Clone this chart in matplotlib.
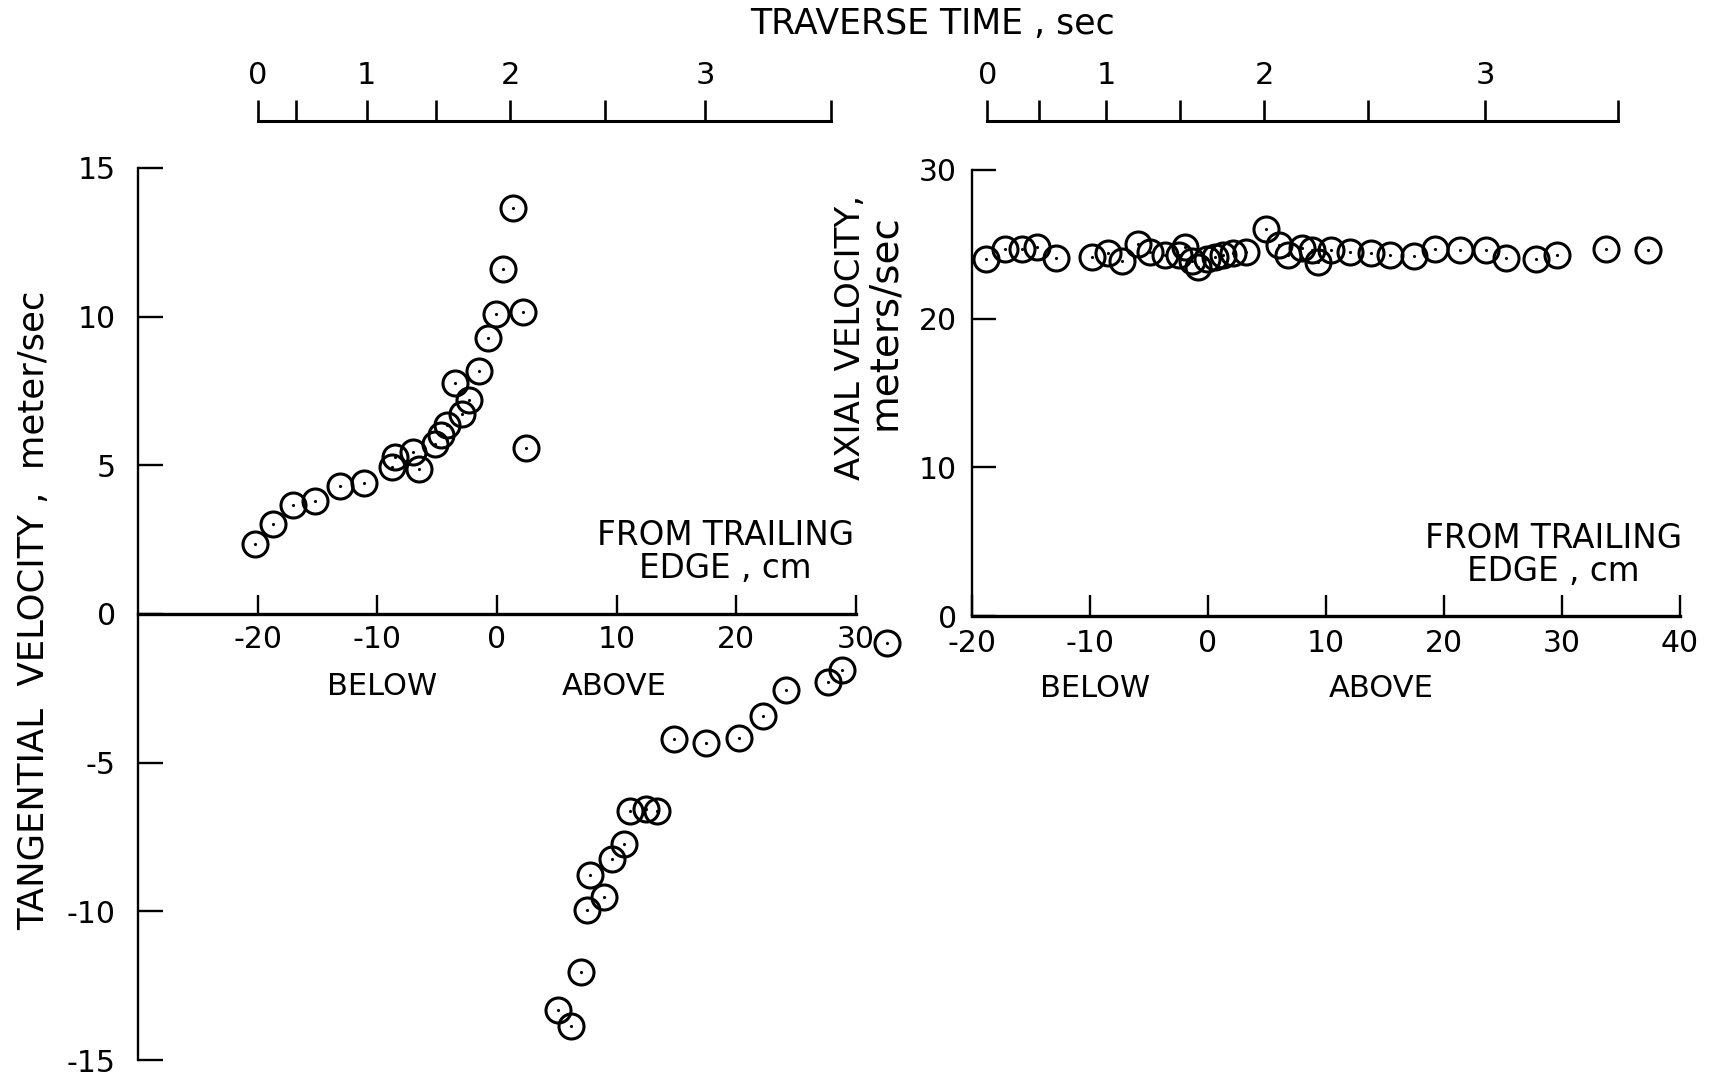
import matplotlib
matplotlib.use('Agg')
import matplotlib.pyplot as plt

# tangential velocity, distance from trailing edge (cm)
tan_x = [-20.25, -18.68, -17.08, -15.2, -13.1, -11.15, -8.75, -8.5, -6.98, -6.55,
         -5.2, -4.68, -4.15, -3.55, -2.9, -2.35, -1.48, -0.76, -0.08, 0.5, 1.32,
         2.17, 2.4,
         32.6, 28.85, 27.7, 24.15, 22.2, 20.25, 17.45, 14.75, 13.35, 12.45, 11.15,
         10.6, 9.6, 7.8, 8.9, 7.55, 6.98, 5.1, 6.15]
tan_v = [2.36, 3.03, 3.67, 3.79, 4.32, 4.4, 4.96, 5.28, 5.44, 4.86,
         5.72, 6.02, 6.35, 7.78, 6.73, 7.19, 8.17, 9.27, 10.09, 11.6, 13.67,
         10.17, 5.57,
         -0.99, -1.87, -2.28, -2.57, -3.42, -4.18, -4.33, -4.22, -6.64, -6.57, -6.62,
         -7.72, -8.24, -8.78, -9.52, -9.95, -12.05, -13.33, -13.85]

# axial velocity
ax_x = [-18.8, -17.2, -15.75, -14.5, -12.9, -9.8, -8.5, -7.33, -5.97, -4.9,
        -3.65, -2.5, -1.95, -1.38, -0.82, -0.11, 0.59, 1.3, 2.1, 3.2,
        4.95, 6.05, 6.75, 7.95, 8.85, 9.35, 10.4, 12.0, 13.85, 15.4,
        17.45, 19.2, 21.35, 23.6, 25.25, 27.8, 29.55, 33.7, 37.3]
ax_v = [24.04, 24.67, 24.7, 24.8, 24.1, 24.17, 24.43, 23.88, 25.02, 24.5,
        24.28, 24.28, 24.84, 23.88, 23.5, 23.99, 24.17, 24.28, 24.43, 24.5,
        26.0, 24.95, 24.28, 24.73, 24.62, 23.83, 24.62, 24.5, 24.4, 24.3,
        24.2, 24.7, 24.6, 24.6, 24.1, 24.0, 24.3, 24.7, 24.6]

# traverse time scale (tick positions in cm)
time_left_pos = [-20, -16.8, -10.9, -5.1, 1.1, 9.0, 17.4, 27.9]
time_right_pos = [-18.7, -14.3, -8.65, -2.4, 4.75, 13.55, 23.5, 34.75]
time_labels = ['0', '', '1', '', '2', '', '3', '']

left_xticks = [-20, -10, 0, 10, 20, 30]
left_yticks = [-15, -10, -5, 0, 5, 10, 15]
right_xticks = [-20, -10, 0, 10, 20, 30, 40]
right_yticks = [0, 10, 20, 30]

plt.rcParams['font.family'] = 'DejaVu Sans'
plt.rcParams['axes.unicode_minus'] = False

W, H = 1721, 1086
fig = plt.figure(figsize=(W / 100, H / 100), dpi=100)


def box(x0, y0, x1, y1):
    # pixel box (top-left origin) -> figure fraction
    return [x0 / W, 1 - y1 / H, (x1 - x0) / W, (y1 - y0) / H]


def circles(ax, x, y):
    ax.plot(x, y, 'o', ms=18, mfc='none', mec='black', mew=2.2, clip_on=False)
    ax.plot(x, y, '.', ms=2.5, color='black', clip_on=False)


# ---- left: tangential velocity
ax1 = fig.add_axes(box(138, 168, 856, 1060))
circles(ax1, tan_x, tan_v)
ax1.set_xlim(-30, 30)
ax1.set_ylim(-15, 15)
ax1.spines['top'].set_visible(False)
ax1.spines['right'].set_visible(False)
ax1.spines['bottom'].set_position(('data', 0))
ax1.spines['bottom'].set_linewidth(2.4)
ax1.spines['left'].set_linewidth(1.7)
ax1.set_xticks(left_xticks, [str(v) for v in left_xticks])
ax1.set_yticks(left_yticks, [str(v) for v in left_yticks])
ax1.tick_params(axis='x', direction='in', length=14, width=1.7, pad=8, labelsize=21.5)
ax1.tick_params(axis='y', direction='in', length=18, width=1.7, pad=16, labelsize=21.5)
ax1.text(-9.6, -2.45, 'BELOW', ha='center', va='center', fontsize=22)
ax1.text(9.8, -2.45, 'ABOVE', ha='center', va='center', fontsize=22)
ax1.text(19.1, 2.1, 'FROM TRAILING\nEDGE , cm', ha='center', va='center',
         fontsize=23.5, linespacing=1.0)

# ---- right: axial velocity
ax2 = fig.add_axes(box(972, 170, 1680, 616))
circles(ax2, ax_x, ax_v)
ax2.set_xlim(-20, 40)
ax2.set_ylim(0, 30)
ax2.spines['top'].set_visible(False)
ax2.spines['right'].set_visible(False)
ax2.spines['bottom'].set_linewidth(2.4)
ax2.spines['left'].set_linewidth(1.7)
ax2.set_xticks(right_xticks, [str(v) for v in right_xticks])
ax2.set_yticks(right_yticks, [str(v) for v in right_yticks])
ax2.tick_params(axis='x', direction='in', length=15, width=1.7, pad=9, labelsize=21.5)
ax2.tick_params(axis='y', direction='in', length=17, width=1.7, pad=11, labelsize=21.5)
ax2.text(-9.6, -4.9, 'BELOW', ha='center', va='center', fontsize=22)
ax2.text(14.7, -4.9, 'ABOVE', ha='center', va='center', fontsize=22)
ax2.text(29.3, 4.1, 'FROM TRAILING\nEDGE , cm', ha='center', va='center',
         fontsize=23.5, linespacing=1.0)

# ---- traverse time scales on top
for ax, pos in [(ax1, time_left_pos), (ax2, time_right_pos)]:
    bb = ax.get_position()
    axt = fig.add_axes([bb.x0, 1 - 121 / H - 0.01, bb.width, 0.01])
    axt.set_xlim(ax.get_xlim())
    axt.patch.set_visible(False)
    for s in ['bottom', 'left', 'right']:
        axt.spines[s].set_visible(False)
    axt.spines['top'].set_bounds(pos[0], pos[-1])
    axt.spines['top'].set_linewidth(2.2)
    axt.set_yticks([])
    axt.xaxis.tick_top()
    axt.set_xticks(pos, time_labels)
    axt.tick_params(axis='x', direction='out', length=15, width=1.9, pad=7, labelsize=22)

fig.text(932 / W, 1 - 24 / H, 'TRAVERSE TIME , sec', ha='center', va='center', fontsize=25)

fig.text(34 / W, 1 - 610 / H, 'TANGENTIAL  VELOCITY ,  meter/sec', rotation=90,
         ha='center', va='center', fontsize=25.5)
fig.text(851 / W, 1 - 337 / H, 'AXIAL VELOCITY,', rotation=90,
         ha='center', va='center', fontsize=24.5)
fig.text(884 / W, 1 - 322 / H, 'meters/sec', rotation=90,
         ha='center', va='center', fontsize=28)

fig.savefig('out.png', dpi=100, facecolor='white')
